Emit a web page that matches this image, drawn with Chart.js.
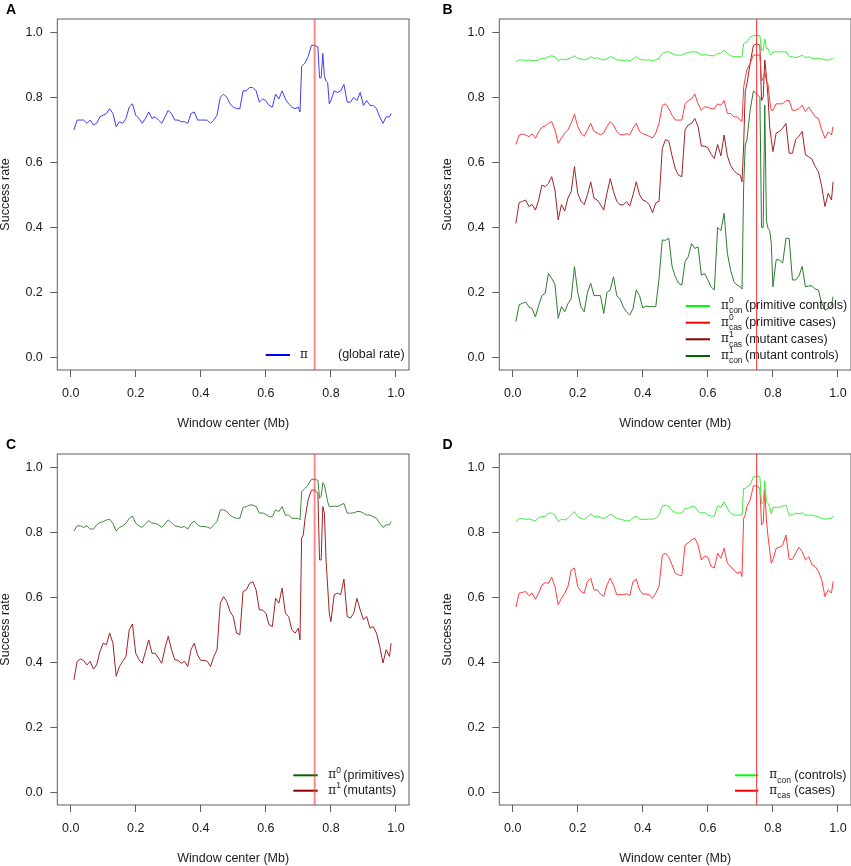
<!DOCTYPE html>
<html>
<head>
<meta charset="utf-8">
<script src="https://cdn.jsdelivr.net/npm/chart.js@4.4.1/dist/chart.umd.min.js"></script>
<style>
html, body { margin: 0; padding: 0; background: #fff; overflow: hidden; }
canvas { position: absolute; }
</style>
</head>
<body>
<canvas id="panelA" width="425" height="433" style="left:0px;top:0px"></canvas>
<canvas id="panelB" width="409" height="433" style="left:442px;top:0px"></canvas>
<canvas id="panelC" width="425" height="433" style="left:0px;top:435px"></canvas>
<canvas id="panelD" width="409" height="433" style="left:442px;top:435px"></canvas>
<script>
// window centers (Mb)
const xs = [
  0.01, 0.02, 0.03, 0.04, 0.05, 0.06, 0.07, 0.08, 0.09, 0.10,
  0.11, 0.12, 0.13, 0.14, 0.15, 0.16, 0.17, 0.18, 0.19, 0.20,
  0.21, 0.22, 0.23, 0.24, 0.25, 0.26, 0.27, 0.28, 0.29, 0.30,
  0.31, 0.32, 0.33, 0.34, 0.35, 0.36, 0.37, 0.38, 0.39, 0.40,
  0.41, 0.42, 0.43, 0.44, 0.45, 0.46, 0.47, 0.48, 0.49, 0.50,
  0.51, 0.52, 0.53, 0.54, 0.55, 0.56, 0.57, 0.58, 0.59, 0.60,
  0.61, 0.62, 0.63, 0.64, 0.65, 0.66, 0.67, 0.68, 0.69, 0.70,
  0.705, 0.71, 0.715, 0.72, 0.73, 0.74, 0.75, 0.76, 0.765, 0.77, 0.775, 0.78, 0.785, 0.79, 0.795,
  0.80, 0.81, 0.82, 0.83, 0.84, 0.85, 0.86, 0.87, 0.88, 0.89,
  0.90, 0.91, 0.92, 0.93, 0.94, 0.95, 0.96, 0.97, 0.98, 0.985
];

// A: global rate
const piGlobal = [
  .70, .73, .73, .73, .72, .73, .715, .72, .74, .745,
  .75, .765, .75, .71, .725, .72, .735, .77, .78, .745,
  .735, .72, .735, .755, .735, .74, .73, .72, .74, .76,
  .75, .73, .73, .725, .725, .72, .75, .755, .73, .73,
  .73, .73, .72, .73, .745, .80, .81, .80, .78, .77,
  .765, .765, .82, .82, .83, .83, .82, .785, .795, .79,
  .775, .77, .81, .795, .82, .795, .78, .77, .765, .77,
  .755, .895, .90, .905, .925, .96, .96, .955, .86, .86, .935, .865, .85, .845, .78,
  .79, .82, .815, .82, .84, .785, .785, .80, .79, .815,
  .775, .79, .775, .775, .765, .74, .72, .74, .74, .75
];

// B: primitive controls / primitive cases / mutant cases / mutant controls
const piCon0 = [
  .91, .915, .915, .913, .915, .913, .913, .915, .92, .92,
  .925, .928, .925, .912, .918, .915, .918, .922, .928, .92,
  .918, .915, .918, .925, .92, .922, .918, .915, .918, .925,
  .922, .915, .915, .913, .915, .912, .918, .925, .918, .915,
  .915, .915, .913, .915, .92, .935, .94, .94, .935, .93,
  .93, .93, .935, .938, .94, .94, .938, .93, .932, .93,
  .928, .928, .935, .935, .945, .935, .928, .925, .925, .925,
  .925, .965, .968, .97, .985, .99, .99, .99, .945, .945, .98, .95, .95, .935, .93,
  .94, .94, .94, .94, .94, .925, .925, .922, .925, .93,
  .922, .925, .92, .92, .92, .918, .915, .915, .918, .92
];
const piCas0 = [
  .655, .684, .687, .684, .679, .687, .674, .694, .708, .712,
  .72, .725, .70, .658, .675, .69, .70, .72, .748, .71,
  .69, .68, .70, .72, .695, .69, .685, .69, .71, .725,
  .715, .695, .685, .685, .688, .685, .705, .72, .695, .688,
  .685, .68, .675, .69, .72, .775, .78, .765, .745, .73,
  .73, .73, .78, .79, .795, .81, .78, .76, .77, .77,
  .765, .765, .78, .775, .79, .75, .75, .74, .74, .73,
  .725, .83, .86, .885, .905, .93, .93, .93, .85, .86, .88, .85, .84, .79, .76,
  .76, .78, .78, .78, .79, .79, .76, .76, .765, .776,
  .756, .77, .755, .74, .735, .70, .674, .694, .684, .71
];
const piCas1 = [
  .412, .476, .48, .484, .464, .47, .453, .484, .53, .525,
  .535, .556, .515, .423, .47, .45, .49, .51, .587, .505,
  .48, .47, .50, .54, .49, .484, .47, .453, .505, .55,
  .51, .48, .469, .469, .479, .465, .50, .54, .50, .484,
  .48, .47, .445, .475, .48, .643, .67, .665, .62, .58,
  .56, .556, .70, .715, .72, .735, .71, .65, .65, .645,
  .625, .612, .655, .62, .684, .62, .59, .575, .565, .56,
  .54, .65, .82, .84, .905, .96, .965, .96, .79, .80, .915, .865, .80, .71, .67,
  .633, .69, .695, .705, .72, .628, .628, .67, .68, .695,
  .623, .617, .61, .587, .571, .525, .464, .505, .484, .54
];
const piCon1 = [
  .11, .162, .166, .17, .155, .15, .124, .16, .19, .197,
  .258, .243, .225, .12, .156, .14, .165, .18, .279, .20,
  .155, .14, .20, .228, .19, .19, .19, .135, .20, .207,
  .248, .19, .18, .155, .14, .13, .15, .207, .19, .152,
  .158, .156, .156, .156, .243, .361, .36, .366, .28, .248,
  .228, .222, .294, .31, .35, .335, .34, .253, .258, .238,
  .217, .207, .40, .39, .443, .32, .268, .233, .222, .217,
  .21, .525, .653, .669, .76, .82, .81, .80, .40, .40, .776, .42, .397, .39, .35,
  .217, .30, .30, .29, .366, .366, .238, .238, .25, .28,
  .217, .22, .22, .21, .207, .166, .145, .15, .16, .187
];

// C: primitives / mutants
const pi0 = [
  .804, .82, .82, .815, .82, .81, .81, .823, .83, .833,
  .838, .84, .828, .804, .815, .82, .828, .843, .85, .828,
  .82, .815, .826, .836, .828, .828, .823, .815, .826, .838,
  .83, .82, .818, .815, .818, .81, .826, .835, .823, .818,
  .818, .816, .812, .823, .833, .869, .869, .864, .853, .846,
  .843, .843, .877, .879, .884, .884, .879, .859, .86, .855,
  .848, .848, .869, .864, .879, .853, .853, .843, .843, .843,
  .838, .925, .93, .935, .946, .963, .963, .96, .905, .91, .953, .946, .92, .894, .879,
  .879, .881, .879, .884, .889, .859, .859, .86, .864, .864,
  .859, .853, .853, .848, .843, .828, .815, .823, .823, .833
];
const pi1 = [
  .346, .403, .41, .406, .392, .403, .379, .392, .433, .459,
  .454, .49, .459, .357, .387, .403, .418, .50, .518, .428,
  .408, .397, .433, .469, .428, .428, .413, .397, .444, .48,
  .439, .408, .406, .397, .403, .387, .439, .459, .423, .406,
  .406, .403, .387, .418, .439, .582, .602, .587, .556, .54,
  .49, .485, .618, .623, .643, .648, .623, .561, .561, .551,
  .515, .51, .597, .582, .628, .551, .541, .50, .49, .505,
  .469, .782, .792, .838, .90, .93, .93, .92, .715, .715, .879, .859, .715, .633, .551,
  .525, .608, .613, .608, .656, .541, .536, .551, .597, .561,
  .531, .541, .505, .51, .49, .449, .398, .439, .418, .459
];

// D: controls / cases
const piCon = [
  .833, .842, .842, .84, .841, .838, .835, .846, .848, .848,
  .859, .859, .853, .833, .84, .838, .843, .853, .864, .848,
  .843, .84, .848, .857, .848, .85, .846, .842, .848, .856,
  .85, .843, .84, .838, .835, .836, .845, .85, .84, .84,
  .84, .841, .84, .843, .853, .881, .884, .879, .867, .86,
  .859, .859, .874, .874, .879, .879, .864, .859, .861, .853,
  .85, .85, .881, .877, .894, .874, .859, .853, .853, .853,
  .853, .935, .935, .94, .946, .971, .973, .971, .889, .889, .959, .894, .889, .879, .857,
  .877, .877, .877, .881, .884, .853, .853, .859, .857, .86,
  .853, .853, .853, .85, .848, .843, .84, .843, .843, .85
];
const piCas = [
  .57, .613, .615, .618, .605, .613, .594, .613, .638, .645,
  .643, .662, .633, .577, .597, .613, .633, .684, .69, .633,
  .618, .613, .649, .659, .623, .623, .61, .603, .638, .659,
  .638, .608, .608, .608, .611, .605, .649, .656, .623, .61,
  .61, .608, .597, .613, .633, .73, .736, .723, .70, .674,
  .669, .666, .761, .768, .777, .782, .761, .715, .727, .723,
  .695, .69, .736, .72, .751, .705, .695, .684, .674, .679,
  .664, .843, .853, .879, .90, .943, .943, .935, .823, .828, .93, .838, .787, .746, .705,
  .715, .751, .754, .761, .792, .717, .717, .736, .754, .741,
  .715, .725, .70, .695, .68, .654, .602, .623, .613, .649
];

const tickVals = [0, 0.2, 0.4, 0.6, 0.8, 1.0];
const markerX = 0.75;   // position of the red reference line

const FONT = '"Liberation Sans", Arial, Helvetica, sans-serif';
const TXT = '#1a1a1a';
const BOX = '#5e5e5e';

const decor = {
    id: 'decor',
    afterDatasetsDraw(chart, args, o) {
        const ctx = chart.ctx;
        const a = chart.chartArea;
        ctx.save();

        // legend (drawn before the reference line, which crosses it)
        o.legend.items.forEach((it, k) => {
            const y = a.bottom + o.legend.rows[k];
            ctx.strokeStyle = it.color;
            ctx.lineWidth = 2;
            ctx.beginPath();
            ctx.moveTo(a.right + o.legend.line[0], y);
            ctx.lineTo(a.right + o.legend.line[1], y);
            ctx.stroke();

            ctx.fillStyle = TXT;
            ctx.textAlign = 'left';
            ctx.textBaseline = 'middle';
            const px = a.right + o.legend.piX;
            ctx.font = '12px "DejaVu Serif", serif';
            ctx.fillText('\u03c0', px, y);
            const pw = ctx.measureText('\u03c0').width;
            ctx.font = '8.5px ' + FONT;
            if (it.sup) ctx.fillText(it.sup, px + pw, y - 5);
            if (it.sub) ctx.fillText(it.sub, px + pw, y + 5);
            ctx.font = '12.5px ' + FONT;
            ctx.fillText(it.label, a.right + o.legend.textX, y);
        });

        // plot frame
        ctx.strokeStyle = BOX;
        ctx.lineWidth = 1;
        ctx.strokeRect(a.left, a.top, a.right - a.left, a.bottom - a.top);

        // reference line
        const vx = chart.scales.x.getPixelForValue(markerX);
        ctx.strokeStyle = o.vline.color;
        ctx.lineWidth = o.vline.width;
        ctx.beginPath();
        ctx.moveTo(vx, a.top);
        ctx.lineTo(vx, a.bottom);
        ctx.stroke();

        // panel letter
        ctx.fillStyle = '#000';
        ctx.font = 'bold 14px ' + FONT;
        ctx.textAlign = 'left';
        ctx.textBaseline = 'alphabetic';
        ctx.fillText(o.letter, o.letterX, 14);
        ctx.restore();
    }
};

function makePanel(id, series, decorOpts, padRight) {
    const datasets = series.map(s => ({
        data: xs.map((x, i) => ({ x: x, y: s.values[i] })),
        borderColor: s.color,
        borderWidth: 1,
        pointRadius: 0,
        tension: 0,
        fill: false
    }));

    const tickFont = { family: FONT, size: 12.5 };

    new Chart(document.getElementById(id), {
        type: 'line',
        data: { datasets: datasets },
        options: {
            responsive: false,
            animation: false,
            events: [],
            layout: { padding: { top: 19, right: padRight, bottom: 0, left: 0 } },
            plugins: {
                legend: { display: false },
                tooltip: { enabled: false },
                decor: decorOpts
            },
            scales: {
                x: {
                    type: 'linear',
                    min: -0.041,
                    max: 1.04,
                    afterBuildTicks: sc => { sc.ticks = tickVals.map(v => ({ value: v })); },
                    afterFit: sc => { sc.height = 63; sc.paddingLeft = 0; sc.paddingRight = 0; },
                    ticks: { callback: v => v.toFixed(1), font: tickFont, color: TXT, padding: 9, maxRotation: 0, autoSkip: false },
                    grid: { drawOnChartArea: false, tickLength: 7, color: BOX },
                    border: { display: false },
                    title: { display: true, text: 'Window center (Mb)', font: tickFont, color: TXT, padding: { top: 0, bottom: 1.5 } }
                },
                y: {
                    type: 'linear',
                    min: -0.039,
                    max: 1.041,
                    afterBuildTicks: sc => { sc.ticks = tickVals.map(v => ({ value: v })); },
                    afterFit: sc => { sc.width = 57.3; sc.paddingTop = 0; sc.paddingBottom = 0; },
                    ticks: { callback: v => v.toFixed(1), font: tickFont, color: TXT, padding: 7.5, autoSkip: false },
                    grid: { drawOnChartArea: false, tickLength: 7, color: BOX },
                    border: { display: false },
                    title: { display: true, text: 'Success rate', font: tickFont, color: TXT, padding: { top: -1.5, bottom: 0 } }
                }
            }
        },
        plugins: [decor]
    });
}

const softRed = { color: 'rgba(255,60,60,0.6)', width: 2 };
const sharpRed = { color: '#ff2a2a', width: 1 };

makePanel('panelA',
    [{ values: piGlobal, color: '#3c3cff' }],
    {
        letter: 'A', letterX: 6, vline: softRed,
        legend: {
            line: [-143.3, -119], rows: [-15], piX: -109, textX: -71,
            items: [{ color: '#0000ff', label: '(global rate)' }]
        }
    }, 16);

makePanel('panelB',
    [
        { values: piCon0, color: '#3cf03c' },
        { values: piCas0, color: '#ff3c3c' },
        { values: piCas1, color: '#a02222' },
        { values: piCon1, color: '#2c7c2c' }
    ],
    {
        letter: 'B', letterX: 0.5, vline: sharpRed,
        legend: {
            line: [-165.3, -141], rows: [-64, -47.3, -30.7, -14], piX: -130, textX: -106,
            items: [
                { color: '#00ff00', sup: '0', sub: 'con', label: '(primitive controls)' },
                { color: '#ff0000', sup: '0', sub: 'cas', label: '(primitive cases)' },
                { color: '#8b0000', sup: '1', sub: 'cas', label: '(mutant cases)' },
                { color: '#006400', sup: '1', sub: 'con', label: '(mutant controls)' }
            ]
        }
    }, 0);

makePanel('panelC',
    [
        { values: pi0, color: '#3a8c3a' },
        { values: pi1, color: '#a02222' }
    ],
    {
        letter: 'C', letterX: 6, vline: softRed,
        legend: {
            line: [-115.7, -91.3], rows: [-29.7, -14.3], piX: -80.7, textX: -65.7,
            items: [
                { color: '#006400', sup: '0', label: '(primitives)' },
                { color: '#8b0000', sup: '1', label: '(mutants)' }
            ]
        }
    }, 16);

makePanel('panelD',
    [
        { values: piCon, color: '#3cf03c' },
        { values: piCas, color: '#ff3c3c' }
    ],
    {
        letter: 'D', letterX: 0.5, vline: sharpRed,
        legend: {
            line: [-116, -92.7], rows: [-29.7, -14.3], piX: -81.7, textX: -56.7,
            items: [
                { color: '#00ff00', sub: 'con', label: '(controls)' },
                { color: '#ff0000', sub: 'cas', label: '(cases)' }
            ]
        }
    }, 0);
</script>
</body>
</html>
